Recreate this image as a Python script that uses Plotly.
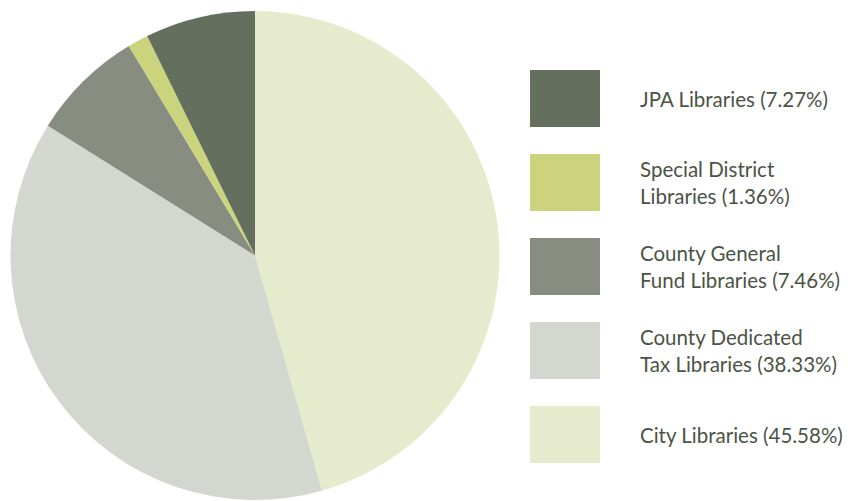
import plotly.graph_objects as go

# Data (pie order: clockwise from 12 o'clock)
categories = ["City Libraries", "County Dedicated Tax Libraries", "County General Fund Libraries",
              "Special District Libraries", "JPA Libraries"]
values = [45.58, 38.33, 7.46, 1.36, 7.27]
colors = ["#E7EBCD", "#D3D7D0", "#878D81", "#CBD47D", "#646F5E"]

# Legend (top to bottom)
legend_labels = ["JPA Libraries (7.27%)", "Special District<br>Libraries (1.36%)",
                 "County General<br>Fund Libraries (7.46%)", "County Dedicated<br>Tax Libraries (38.33%)",
                 "City Libraries (45.58%)"]
legend_colors = ["#646F5E", "#CBD47D", "#878D81", "#D3D7D0", "#E7EBCD"]

W, H = 851, 501
OFF = 8  # page body margin offset


def px(x):
    return (x - OFF) / W


def py(y):
    return 1 - (y - OFF) / H


fig = go.Figure(go.Pie(
    labels=categories, values=values, sort=False, direction="clockwise", rotation=0,
    marker=dict(colors=colors, line=dict(width=0)), textinfo="none", hoverinfo="label+percent",
    domain=dict(x=[px(10), px(500)], y=[py(500), py(11)]), showlegend=False,
))

shapes, annotations = [], []
top0, step = 70, 84
for i, (lab, col) in enumerate(zip(legend_labels, legend_colors)):
    y0 = top0 + i * step
    y1 = y0 + 57
    shapes.append(dict(type="rect", xref="paper", yref="paper",
                       x0=px(530), x1=px(600), y0=py(y1), y1=py(y0),
                       fillcolor=col, line=dict(width=0)))
    annotations.append(dict(xref="paper", yref="paper", x=px(638), y=py(y0 + 28.5),
                            xanchor="left", yanchor="middle", align="left", showarrow=False,
                            text=lab, font=dict(family="Lato", size=20.5, color="#4A5445")))

fig.update_layout(width=W, height=H, margin=dict(l=0, r=0, t=0, b=0),
                  paper_bgcolor="white", plot_bgcolor="white",
                  shapes=shapes, annotations=annotations)

fig.write_html("out.html")
